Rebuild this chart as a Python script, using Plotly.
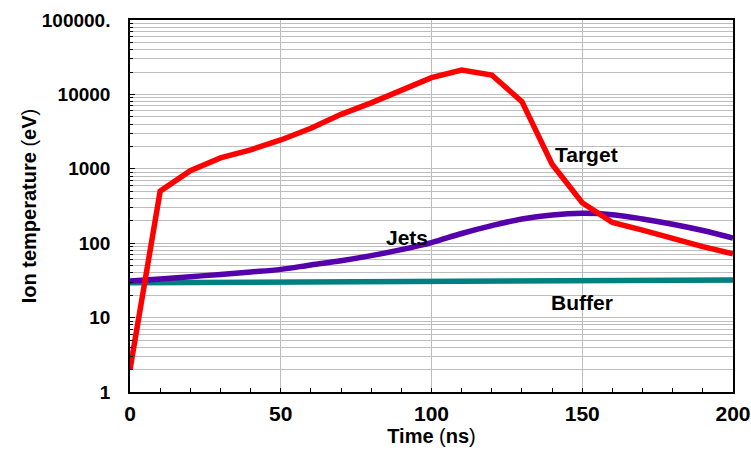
import math
import plotly.graph_objects as go

# Time axis (ns)
time_ns = [0, 10, 20, 30, 40, 50, 60, 70, 80, 90, 100,
           110, 120, 130, 140, 150, 160, 170, 180, 190, 200]

# Ion temperatures (eV)
target_ev = [2.0, 500, 940, 1400, 1800, 2440, 3500, 5400, 7700, 11500, 16800,
             21300, 18200, 8000, 1150, 350, 190, 150, 115, 90, 72]
jets_ev = [31, 33, 35.5, 38, 41, 44.5, 51, 58, 68, 82, 102,
           135, 172, 212, 240, 252, 242, 212, 180, 148, 117]
buffer_ev = [29.4, 29.5, 29.6, 29.8, 29.9, 30.0, 30.1, 30.2, 30.3, 30.4, 30.5,
             30.6, 30.7, 30.8, 30.9, 31.0, 31.2, 31.4, 31.6, 31.8, 32.0]

y_tickvals = [1, 10, 100, 1000, 10000, 100000]
y_ticktext = ["1", "10", "100", "1000", "10000", "100000."]
x_tickvals = [0, 50, 100, 150, 200]
x_ticktext = ["0", "50", "100", "150", "200"]

# Curve labels: (text, time, temperature)
curve_labels = [("Target", 151.4, 1580), ("Jets", 92.0, 121), ("Buffer", 150.0, 16.2)]

FONT = "Liberation Sans, Arial, sans-serif"
GRID = "#bdbdbd"

fig = go.Figure()
fig.add_trace(go.Scatter(x=time_ns, y=buffer_ev, mode="lines",
                         line=dict(color="#008080", width=5.5), name="Buffer"))
fig.add_trace(go.Scatter(x=time_ns, y=jets_ev, mode="lines",
                         line=dict(color="#5500aa", width=5.5, shape="spline"), name="Jets"))
fig.add_trace(go.Scatter(x=time_ns, y=target_ev, mode="lines",
                         line=dict(color="#ff0000", width=5.5), name="Target"))

# annotation y on a log axis is given as log10 of the value
for text, tx, ty in curve_labels:
    fig.add_annotation(x=tx, y=math.log10(ty), xref="x", yref="y", text="<b>%s</b>" % text,
                       showarrow=False, font=dict(family=FONT, size=21, color="black"))

fig.update_layout(
    width=751, height=451,
    margin=dict(l=130, r=18, t=20, b=59),
    paper_bgcolor="white", plot_bgcolor="white",
    showlegend=False,
    font=dict(family=FONT, color="black"),
)

fig.update_xaxes(
    range=[0, 200], tickvals=x_tickvals, ticktext=["<b>%s</b>" % t for t in x_ticktext],
    tickfont=dict(family=FONT, size=21, color="black"),
    title=dict(text="<b>Time </b>(<b>ns</b>)", font=dict(family=FONT, size=20), standoff=3),
    showgrid=True, gridcolor=GRID, gridwidth=1,
    showline=True, linecolor="black", linewidth=1.5, mirror=True,
    ticks="inside", ticklen=4, tickcolor="black",
    minor=dict(dtick=10, ticks="inside", ticklen=4, tickcolor="black", showgrid=False),
    zeroline=False, automargin=False, ticklabelstandoff=2,
)

fig.update_yaxes(
    type="log", range=[0, 5],
    tickvals=y_tickvals, ticktext=["<b>%s</b>" % t for t in y_ticktext],
    tickfont=dict(family=FONT, size=19, color="black"),
    title=dict(text="<b>Ion temperature </b>(<b>eV</b>)", font=dict(family=FONT, size=20), standoff=0),
    showgrid=True, gridcolor=GRID, gridwidth=1,
    showline=True, linecolor="black", linewidth=1.5, mirror=True,
    ticks="inside", ticklen=5, tickcolor="black",
    minor=dict(dtick="D1", ticks="inside", ticklen=3, tickcolor="black",
               showgrid=True, gridcolor=GRID, gridwidth=1),
    zeroline=False, automargin=False, ticklabelstandoff=14,
)

fig.write_html("out.html")
